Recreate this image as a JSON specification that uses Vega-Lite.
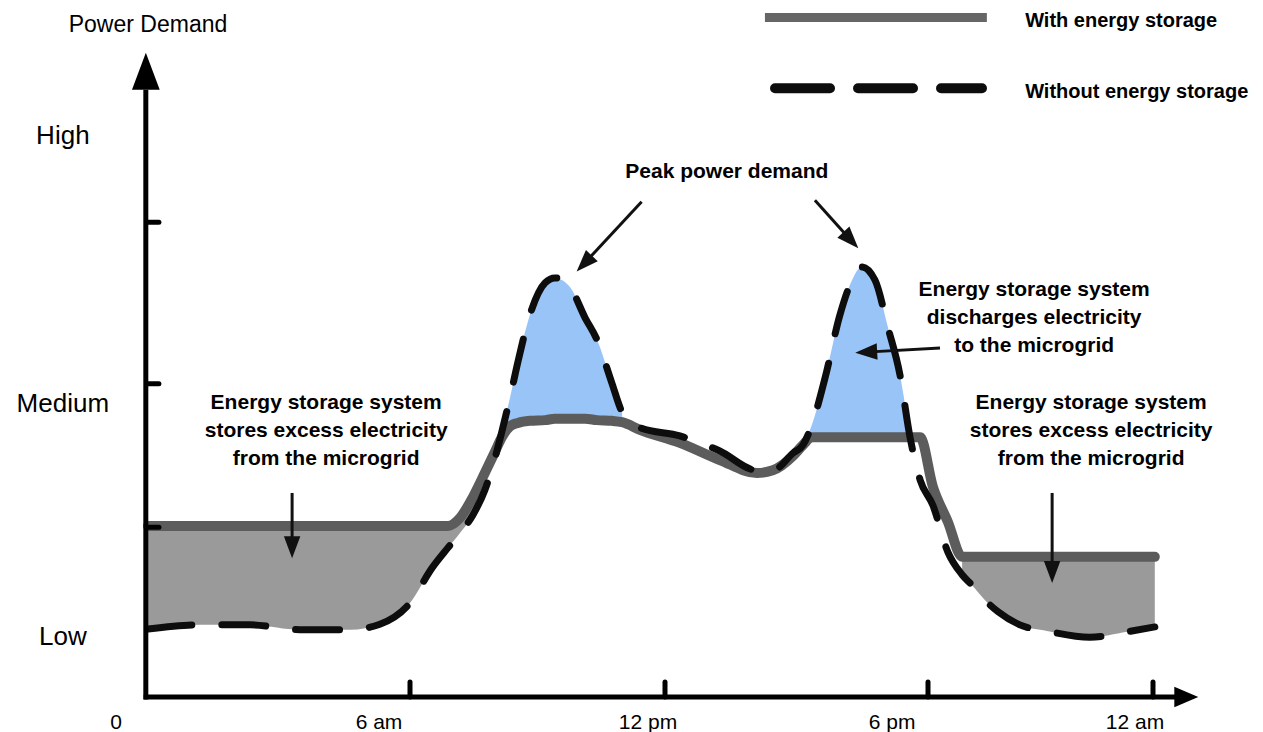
{
  "$schema": "https://vega.github.io/schema/vega-lite/v6.json",
  "width": 1050,
  "height": 687,
  "autosize": {"type": "none"},
  "padding": {"left": 148, "top": 10, "right": 65, "bottom": 35},
  "background": "white",
  "config": {"view": {"stroke": null}, "font": "Liberation Sans"},
  "datasets": {
    "curve": [
      {"h": 0, "without_storage": 9.9, "with_storage": 24.9},
      {"h": 1.19, "without_storage": 10.5, "with_storage": 24.9},
      {"h": 2.34, "without_storage": 10.5, "with_storage": 24.9},
      {"h": 3.48, "without_storage": 9.8, "with_storage": 24.9},
      {"h": 4.63, "without_storage": 9.8, "with_storage": 24.9},
      {"h": 5.31, "without_storage": 10.6, "with_storage": 24.9},
      {"h": 6.0, "without_storage": 13.7, "with_storage": 24.9},
      {"h": 6.52, "without_storage": 18.8, "with_storage": 24.9},
      {"h": 6.89, "without_storage": 21.7, "with_storage": 24.9},
      {"h": 7.18, "without_storage": 23.9, "with_storage": 26.1},
      {"h": 7.48, "without_storage": 26.5, "with_storage": 29.1},
      {"h": 7.76, "without_storage": 30.1, "with_storage": 32.6},
      {"h": 8.0, "without_storage": 34.8, "with_storage": 35.7},
      {"h": 8.16, "without_storage": 38.6, "with_storage": 37.8},
      {"h": 8.35, "without_storage": 43.5, "with_storage": 39.4},
      {"h": 8.54, "without_storage": 48.8, "with_storage": 39.9},
      {"h": 8.82, "without_storage": 55.6, "with_storage": 40.2},
      {"h": 9.18, "without_storage": 60.3, "with_storage": 40.3},
      {"h": 9.41, "without_storage": 61.0, "with_storage": 40.5},
      {"h": 9.76, "without_storage": 59.7, "with_storage": 40.5},
      {"h": 10.12, "without_storage": 55.2, "with_storage": 40.5},
      {"h": 10.4, "without_storage": 52.0, "with_storage": 40.3},
      {"h": 10.75, "without_storage": 45.7, "with_storage": 40.2},
      {"h": 10.99, "without_storage": 41.5, "with_storage": 40.0},
      {"h": 11.41, "without_storage": 39.2, "with_storage": 38.9},
      {"h": 12.34, "without_storage": 38.0, "with_storage": 37.0},
      {"h": 13.25, "without_storage": 35.8, "with_storage": 34.5},
      {"h": 14.1, "without_storage": 33.0, "with_storage": 32.6},
      {"h": 14.46, "without_storage": 33.0, "with_storage": 33.0},
      {"h": 14.92, "without_storage": 35.5, "with_storage": 35.1},
      {"h": 15.15, "without_storage": 36.7, "with_storage": 36.7},
      {"h": 15.35, "without_storage": 39.6, "with_storage": 37.8},
      {"h": 15.65, "without_storage": 46.4, "with_storage": 37.8},
      {"h": 15.99, "without_storage": 55.6, "with_storage": 37.8},
      {"h": 16.22, "without_storage": 60.0, "with_storage": 37.8},
      {"h": 16.49, "without_storage": 62.6, "with_storage": 37.8},
      {"h": 16.79, "without_storage": 60.7, "with_storage": 37.8},
      {"h": 17.09, "without_storage": 53.7, "with_storage": 37.8},
      {"h": 17.36, "without_storage": 46.9, "with_storage": 37.8},
      {"h": 17.59, "without_storage": 37.8, "with_storage": 37.8},
      {"h": 17.82, "without_storage": 31.6, "with_storage": 37.8},
      {"h": 18.13, "without_storage": 27.9, "with_storage": 30.6},
      {"h": 18.53, "without_storage": 21.1, "with_storage": 25.5},
      {"h": 18.91, "without_storage": 17.8, "with_storage": 20.4},
      {"h": 19.17, "without_storage": 16.3, "with_storage": 20.4},
      {"h": 19.52, "without_storage": 14.1, "with_storage": 20.4},
      {"h": 19.87, "without_storage": 12.4, "with_storage": 20.4},
      {"h": 20.45, "without_storage": 10.5, "with_storage": 20.4},
      {"h": 21.17, "without_storage": 9.6, "with_storage": 20.4},
      {"h": 22.32, "without_storage": 8.7, "with_storage": 20.4},
      {"h": 23.31, "without_storage": 9.5, "with_storage": 20.4},
      {"h": 24.04, "without_storage": 10.2, "with_storage": 20.4}
    ]
  },
  "layer": [
    {
      "data": {"name": "curve"},
      "transform": [{"filter": {"field": "h", "range": [0, 7.76]}}],
      "mark": {"type": "area", "interpolate": "monotone", "color": "#9a9a9a", "opacity": 1},
      "encoding": {
        "x": {"field": "h", "type": "quantitative", "axis": null,
              "scale": {"domain": [0, 6, 12, 18, 24, 25], "range": [0, 262, 517, 780, 1005, 1050], "nice": false, "zero": false}},
        "y": {"field": "with_storage", "type": "quantitative", "axis": null,
              "scale": {"domain": [0, 100], "nice": false, "zero": false}},
        "y2": {"field": "without_storage"}
      }
    },
    {
      "data": {"name": "curve"},
      "transform": [{"filter": {"field": "h", "range": [18.9, 24.1]}}],
      "mark": {"type": "area", "interpolate": "monotone", "color": "#9a9a9a", "opacity": 1},
      "encoding": {
        "x": {"field": "h", "type": "quantitative", "axis": null},
        "y": {"field": "with_storage", "type": "quantitative", "axis": null},
        "y2": {"field": "without_storage"}
      }
    },
    {
      "data": {"name": "curve"},
      "transform": [{"filter": {"field": "h", "range": [8.0, 11.0]}}],
      "mark": {"type": "area", "interpolate": "monotone", "color": "#99c4f7", "opacity": 1},
      "encoding": {
        "x": {"field": "h", "type": "quantitative", "axis": null},
        "y": {"field": "with_storage", "type": "quantitative", "axis": null},
        "y2": {"field": "without_storage"}
      }
    },
    {
      "data": {"name": "curve"},
      "transform": [{"filter": {"field": "h", "range": [15.15, 17.6]}}],
      "mark": {"type": "area", "interpolate": "monotone", "color": "#99c4f7", "opacity": 1},
      "encoding": {
        "x": {"field": "h", "type": "quantitative", "axis": null},
        "y": {"field": "with_storage", "type": "quantitative", "axis": null},
        "y2": {"field": "without_storage"}
      }
    },
    {
      "data": {"name": "curve"},
      "mark": {"type": "line", "interpolate": "monotone", "color": "#5c5c5c", "strokeWidth": 10, "strokeCap": "round", "strokeJoin": "round"},
      "encoding": {
        "x": {"field": "h", "type": "quantitative", "axis": null},
        "y": {"field": "with_storage", "type": "quantitative", "axis": null}
      }
    },
    {
      "data": {"name": "curve"},
      "mark": {"type": "line", "interpolate": "monotone", "color": "#0d0d0d", "strokeWidth": 7, "strokeDash": [44, 30], "strokeCap": "round"},
      "encoding": {
        "x": {"field": "h", "type": "quantitative", "axis": null},
        "y": {"field": "without_storage", "type": "quantitative", "axis": null}
      }
    },
    {
      "data": {"values": [
        {"x1": -0.05, "y1": -0.35, "x2": -0.05, "y2": 88.4},
        {"x1": -0.1, "y1": 0, "x2": 24.6, "y2": 0}
      ]},
      "mark": {"type": "rule", "color": "#000000", "strokeWidth": 5, "strokeCap": "butt"},
      "encoding": {
        "x": {"field": "x1", "type": "quantitative", "axis": null},
        "y": {"field": "y1", "type": "quantitative", "axis": null},
        "x2": {"field": "x2"},
        "y2": {"field": "y2"}
      }
    },
    {
      "data": {"values": [
        {"x1": 6, "y1": 0, "x2": 6, "y2": 2.2},
        {"x1": 12, "y1": 0, "x2": 12, "y2": 2.2},
        {"x1": 18, "y1": 0, "x2": 18, "y2": 2.2},
        {"x1": 24, "y1": 0, "x2": 24, "y2": 2.2},
        {"x1": 0, "y1": 69.1, "x2": 0.25, "y2": 69.1},
        {"x1": 0, "y1": 45.6, "x2": 0.25, "y2": 45.6},
        {"x1": 0, "y1": 24.7, "x2": 0.25, "y2": 24.7}
      ]},
      "mark": {"type": "rule", "color": "#000000", "strokeWidth": 5, "strokeCap": "round"},
      "encoding": {
        "x": {"field": "x1", "type": "quantitative", "axis": null},
        "y": {"field": "y1", "type": "quantitative", "axis": null},
        "x2": {"field": "x2"},
        "y2": {"field": "y2"}
      }
    },
    {
      "data": {"values": [
        {"x1": 3.30, "y1": 29.7, "x2": 3.30, "y2": 21.8},
        {"x1": 21.31, "y1": 29.7, "x2": 21.31, "y2": 18.2},
        {"x1": 11.45, "y1": 72.1, "x2": 10.10, "y2": 63.1},
        {"x1": 15.42, "y1": 72.3, "x2": 16.24, "y2": 66.5},
        {"x1": 18.32, "y1": 50.8, "x2": 16.59, "y2": 50.2}
      ]},
      "mark": {"type": "rule", "color": "#111111", "strokeWidth": 3},
      "encoding": {
        "x": {"field": "x1", "type": "quantitative", "axis": null},
        "y": {"field": "y1", "type": "quantitative", "axis": null},
        "x2": {"field": "x2"},
        "y2": {"field": "y2"}
      }
    },
    {
      "data": {"values": [
        {"x": 3.30, "y": 21.8, "angle": 180},
        {"x": 21.31, "y": 18.2, "angle": 180},
        {"x": 10.10, "y": 63.1, "angle": 224},
        {"x": 16.24, "y": 66.5, "angle": 137},
        {"x": 16.59, "y": 50.2, "angle": 267}
      ]},
      "mark": {"type": "point", "shape": "M0,-1L0.75,1L-0.75,1Z", "filled": true, "color": "#111111", "opacity": 1, "size": 480, "strokeWidth": 0},
      "encoding": {
        "x": {"field": "x", "type": "quantitative", "axis": null},
        "y": {"field": "y", "type": "quantitative", "axis": null},
        "angle": {"field": "angle", "type": "quantitative", "scale": null}
      }
    },
    {
      "data": {"values": [{"x": -0.05, "y": 91.1}]},
      "mark": {"type": "point", "shape": "M0,-1L0.75,1L-0.75,1Z", "filled": true, "color": "#000000", "opacity": 1, "size": 1369, "strokeWidth": 0},
      "encoding": {
        "x": {"field": "x", "type": "quantitative", "axis": null},
        "y": {"field": "y", "type": "quantitative", "axis": null}
      }
    },
    {
      "data": {"values": [{"x": 24.74, "y": 0}]},
      "mark": {"type": "point", "shape": "M0,-1L0.85,1L-0.85,1Z", "filled": true, "color": "#000000", "opacity": 1, "size": 576, "angle": 90, "strokeWidth": 0},
      "encoding": {
        "x": {"field": "x", "type": "quantitative", "axis": null},
        "y": {"field": "y", "type": "quantitative", "axis": null}
      }
    },
    {
      "data": {"values": [{"x1": 14.28, "x2": 19.57, "y": 98.9}]},
      "mark": {"type": "rule", "color": "#666666", "strokeWidth": 9, "strokeCap": "butt"},
      "encoding": {
        "x": {"field": "x1", "type": "quantitative", "axis": null},
        "x2": {"field": "x2"},
        "y": {"field": "y", "type": "quantitative", "axis": null}
      }
    },
    {
      "data": {"values": [{"x1": 14.51, "x2": 19.44, "y": 88.6}]},
      "mark": {"type": "rule", "color": "#0d0d0d", "strokeWidth": 10, "strokeCap": "round", "strokeDash": [55, 28]},
      "encoding": {
        "x": {"field": "x1", "type": "quantitative", "axis": null},
        "x2": {"field": "x2"},
        "y": {"field": "y", "type": "quantitative", "axis": null}
      }
    },
    {
      "data": {"values": [
        {"x": -1.95, "y": 80.5, "label": "High"},
        {"x": -1.95, "y": 41.5, "label": "Medium"},
        {"x": -1.95, "y": 7.6, "label": "Low"}
      ]},
      "mark": {"type": "text", "fontSize": 26, "align": "center", "baseline": "alphabetic", "color": "#000000"},
      "encoding": {
        "x": {"field": "x", "type": "quantitative", "axis": null},
        "y": {"field": "y", "type": "quantitative", "axis": null},
        "text": {"field": "label"}
      }
    },
    {
      "data": {"values": [
        {"x": -0.73, "y": -4.66, "label": "0"},
        {"x": 5.29, "y": -4.66, "label": "6 am"},
        {"x": 11.6, "y": -4.66, "label": "12 pm"},
        {"x": 17.18, "y": -4.66, "label": "6 pm"},
        {"x": 23.52, "y": -4.66, "label": "12 am"}
      ]},
      "mark": {"type": "text", "fontSize": 21, "align": "center", "baseline": "alphabetic", "color": "#000000"},
      "encoding": {
        "x": {"field": "x", "type": "quantitative", "axis": null},
        "y": {"field": "y", "type": "quantitative", "axis": null},
        "text": {"field": "label"}
      }
    },
    {
      "data": {"values": [{"x": 0, "y": 96.8, "label": "Power Demand"}]},
      "mark": {"type": "text", "fontSize": 23, "align": "center", "baseline": "alphabetic", "color": "#000000"},
      "encoding": {
        "x": {"field": "x", "type": "quantitative", "axis": null},
        "y": {"field": "y", "type": "quantitative", "axis": null},
        "text": {"field": "label"}
      }
    },
    {
      "data": {"values": [
        {"x": 4.08, "y": 41.9, "label": "Energy storage system\nstores excess electricity\nfrom the microgrid"},
        {"x": 22.35, "y": 41.9, "label": "Energy storage system\nstores excess electricity\nfrom the microgrid"},
        {"x": 20.83, "y": 58.4, "label": "Energy storage system\ndischarges electricity\nto the microgrid"},
        {"x": 13.41, "y": 75.5, "label": "Peak power demand"}
      ]},
      "mark": {"type": "text", "fontSize": 21, "fontWeight": "bold", "align": "center", "baseline": "alphabetic", "lineBreak": "\n", "lineHeight": 28, "color": "#000000"},
      "encoding": {
        "x": {"field": "x", "type": "quantitative", "axis": null},
        "y": {"field": "y", "type": "quantitative", "axis": null},
        "text": {"field": "label"}
      }
    },
    {
      "data": {"values": [
        {"x": 20.59, "y": 97.5, "label": "With energy storage"},
        {"x": 20.59, "y": 87.2, "label": "Without energy storage"}
      ]},
      "mark": {"type": "text", "fontSize": 20, "fontWeight": "bold", "align": "left", "baseline": "alphabetic", "color": "#000000"},
      "encoding": {
        "x": {"field": "x", "type": "quantitative", "axis": null},
        "y": {"field": "y", "type": "quantitative", "axis": null},
        "text": {"field": "label"}
      }
    }
  ]
}
